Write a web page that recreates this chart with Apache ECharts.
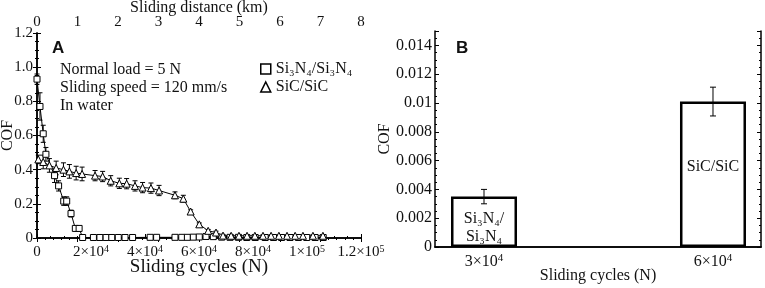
<!DOCTYPE html>
<html>
<head>
<meta charset="utf-8">
<script src="https://cdn.jsdelivr.net/npm/echarts@6/dist/echarts.min.js"></script>
<style>
  html, body { margin: 0; padding: 0; background: #fff; }
  #main { width: 765px; height: 288px; }
</style>
</head>
<body>
<div id="main"></div>
<script>
// panel A: COF vs sliding cycles
let si3n4Cycles = [0, 1100, 2300, 3300, 6500, 8000, 9900, 11000, 12600, 14200, 15600, 16900,
    20900, 23300, 25600, 27700, 30100, 32600, 35400, 41900, 44300, 51100, 53600, 55700, 57900,
    60100, 62600, 65300, 68400, 71500, 74600, 77700, 80800, 84500, 87600, 90600, 93700, 96800,
    99900, 103000, 106000];
let si3n4Cof = [0.93, 0.77, 0.61, 0.49, 0.365, 0.305, 0.216, 0.216, 0.143, 0.056, 0.056, 0.003,
    0.003, 0.003, 0.003, 0.003, 0.003, 0.003, 0.003, 0.004, 0.004, 0.004, 0.004, 0.004, 0.005,
    0.006, 0.009, 0.008, 0.005, 0.004, 0.004, 0.003, 0.003, 0.003, 0.003, 0.003, 0.003, 0.003,
    0.003, 0.003, 0.003];
let si3n4Err = [0.03, 0.08, 0.05, 0.04, 0.04, 0.03, 0.025, 0.025, 0.02, 0.012, 0.012, 0.005,
    0.004, 0.004, 0.004, 0.004, 0.004, 0.004, 0.004, 0.004, 0.004, 0.004, 0.004, 0.004, 0.004,
    0.004, 0.004, 0.004, 0.004, 0.004, 0.004, 0.004, 0.004, 0.004, 0.004, 0.004, 0.004, 0.004,
    0.004, 0.004, 0.004];

let sicCycles = [500, 2300, 4600, 7100, 9800, 12000, 14500, 16700, 21500, 24300, 27300, 30500,
    33200, 36300, 39100, 42200, 45200, 51100, 54200, 56900, 60100, 63400, 66300, 68900, 71900,
    74800, 77800, 80700, 83700, 86700, 89600, 92600, 95600, 98500, 102200, 105900];
let sicCof = [0.46, 0.445, 0.425, 0.41, 0.40, 0.39, 0.38, 0.375, 0.365, 0.36, 0.335, 0.32,
    0.318, 0.305, 0.295, 0.292, 0.278, 0.25, 0.23, 0.155, 0.08, 0.042, 0.032, 0.014, 0.013,
    0.013, 0.013, 0.013, 0.013, 0.013, 0.013, 0.013, 0.013, 0.013, 0.013, 0.013];
let sicErr = [0.025, 0.04, 0.04, 0.04, 0.04, 0.04, 0.04, 0.04, 0.03, 0.03, 0.03, 0.03,
    0.03, 0.03, 0.03, 0.03, 0.03, 0.02, 0.02, 0.01, 0.008, 0.008, 0.008, 0.006, 0.006,
    0.006, 0.006, 0.006, 0.006, 0.006, 0.006, 0.006, 0.006, 0.006, 0.006, 0.006];

// panel B: steady COF
let barCycles = [30000, 60000];
let barNames = ['Si₃N₄/\nSi₃N₄', 'SiC/SiC'];
let barCof = [0.0035, 0.0101];
let barErr = [0.0005, 0.001];

let serif = 'Liberation Serif';
let ink = '#111';

function zip(xs, ys) {
    return xs.map((x, i) => [x, ys[i]]);
}
function errData(xs, ys, es) {
    return xs.map((x, i) => [x, ys[i] - es[i], ys[i] + es[i]]);
}
function errRender(cap) {
    return function (params, api) {
        let x = api.value(0);
        let top = api.coord([x, api.value(2)]);
        let bot = api.coord([x, api.value(1)]);
        let st = { stroke: '#000', lineWidth: 1 };
        return {
            type: 'group',
            children: [
                { type: 'line', shape: { x1: top[0], y1: top[1], x2: bot[0], y2: bot[1] }, style: st },
                { type: 'line', shape: { x1: top[0] - cap, y1: top[1], x2: top[0] + cap, y2: top[1] }, style: st },
                { type: 'line', shape: { x1: bot[0] - cap, y1: bot[1], x2: bot[0] + cap, y2: bot[1] }, style: st }
            ]
        };
    };
}

// "2×10^4" with a real superscript
function cyclesLabel(v) {
    if (v === 0) return '{n|0}';
    if (v === 100000) return '{n|1×10}{s|5}';
    if (v === 120000) return '{n|1.2×10}{s|5}';
    return '{n|' + (v / 10000) + '×10}{s|4}';
}
function supLabel(size, margin, extra) {
    return Object.assign({
        margin: margin, formatter: cyclesLabel,
        fontFamily: serif, fontSize: size, color: ink,
        rich: {
            n: { fontFamily: serif, fontSize: size, color: ink, lineHeight: size + 2 },
            s: { fontFamily: serif, fontSize: Math.round(size * 0.68), color: ink, lineHeight: size + 2, verticalAlign: 'top' }
        }
    }, extra || {});
}

let lineAx = { lineStyle: { color: '#000', width: 1.5 } };
let inTick = { show: true, inside: true, length: 4, lineStyle: { color: '#000', width: 1 } };
let inMinor = function (n) {
    return { show: true, splitNumber: n, length: 2, lineStyle: { color: '#000', width: 1 } };
};
let lbl = function (size) {
    return { color: ink, fontFamily: serif, fontSize: size };
};

let chart = echarts.init(document.getElementById('main'));

let barData = barCycles.map((x, i) => ({
    value: [x, barCof[i]],
    label: {
        show: true,
        position: 'inside',
        offset: i === 0 ? [0, 6] : [0, -7],
        formatter: barNames[i],
        color: ink, fontFamily: serif, fontSize: 16, lineHeight: 18
    }
}));

let option = {
    animation: false,
    backgroundColor: '#fff',
    grid: [
        { left: 37, right: 404, top: 33, bottom: 50, outerBoundsMode: 'none' },
        { left: 435, right: 4, top: 31, bottom: 41, outerBoundsMode: 'none' }
    ],
    xAxis: [
        {
            gridIndex: 0, type: 'value', position: 'bottom', min: 0, max: 120000, interval: 20000,
            axisLine: lineAx, axisTick: inTick, minorTick: inMinor(4), splitLine: { show: false },
            axisLabel: supLabel(15, 6),
            name: 'Sliding cycles (N)', nameLocation: 'middle', nameGap: 20, nameMoveOverlap: false,
            nameTextStyle: lbl(19)
        },
        {
            gridIndex: 0, type: 'value', position: 'top', min: 0, max: 8, interval: 1,
            axisLine: lineAx, axisTick: inTick, minorTick: inMinor(5), splitLine: { show: false },
            axisLabel: Object.assign({ margin: 3 }, lbl(15)),
            name: 'Sliding distance (km)', nameLocation: 'middle', nameGap: 17, nameMoveOverlap: false,
            nameTextStyle: lbl(16)
        },
        {
            gridIndex: 1, type: 'value', position: 'bottom', min: 23580, max: 66290,
            axisLine: lineAx, axisTick: { show: false }, splitLine: { show: false },
            axisLabel: supLabel(16, 6, { customValues: barCycles }),
            name: 'Sliding cycles (N)', nameLocation: 'middle', nameGap: 21, nameMoveOverlap: false,
            nameTextStyle: lbl(16)
        },
        {
            gridIndex: 1, type: 'value', position: 'top', min: 23580, max: 66290,
            axisLine: lineAx, axisTick: { show: false }, axisLabel: { show: false }, splitLine: { show: false }
        }
    ],
    yAxis: [
        {
            gridIndex: 0, type: 'value', position: 'left', min: 0, max: 1.2, interval: 0.2,
            axisLine: lineAx, axisTick: inTick, minorTick: inMinor(4), splitLine: { show: false },
            axisLabel: Object.assign({ margin: 4, formatter: v => v === 0 ? '0' : v.toFixed(1) }, lbl(15)),
            name: 'COF', nameLocation: 'middle', nameGap: 21, nameMoveOverlap: false, nameTextStyle: lbl(16)
        },
        {
            gridIndex: 0, type: 'value', position: 'right', min: 0, max: 1.2, interval: 0.2,
            axisLine: lineAx, axisTick: inTick, minorTick: inMinor(4), splitLine: { show: false },
            axisLabel: { show: false }
        },
        {
            gridIndex: 1, type: 'value', position: 'left', min: 0, max: 0.015, interval: 0.002,
            axisLine: lineAx, axisTick: inTick, minorTick: inMinor(4), splitLine: { show: false },
            axisLabel: Object.assign({ margin: 3, showMaxLabel: false }, lbl(16)),
            name: 'COF', nameLocation: 'middle', nameGap: 42, nameMoveOverlap: false, nameTextStyle: lbl(16)
        },
        {
            gridIndex: 1, type: 'value', position: 'right', min: 0, max: 0.015, interval: 0.002,
            axisLine: lineAx, axisTick: inTick, minorTick: inMinor(4), splitLine: { show: false },
            axisLabel: { show: false }
        }
    ],
    legend: {
        orient: 'vertical', left: 255, top: 56, itemGap: 2,
        itemWidth: 10, itemHeight: 10,
        textStyle: { color: ink, fontFamily: serif, fontSize: 16 },
        data: [
            { name: 'Si₃N₄/Si₃N₄', icon: 'rect', itemStyle: { color: '#fff', borderColor: '#000', borderWidth: 1.5 } },
            { name: 'SiC/SiC', icon: 'triangle', itemStyle: { color: '#fff', borderColor: '#000', borderWidth: 1.5 } }
        ]
    },
    graphic: [
        { type: 'text', left: 52, top: 40, style: { text: 'A', fontFamily: 'Liberation Sans', fontWeight: 'bold', fontSize: 17, fill: '#111' } },
        { type: 'text', left: 456, top: 40, style: { text: 'B', fontFamily: 'Liberation Sans', fontWeight: 'bold', fontSize: 17, fill: '#111' } },
        { type: 'text', left: 60, top: 62, style: { text: 'Normal load = 5 N', fontFamily: serif, fontSize: 16, fill: ink } },
        { type: 'text', left: 60, top: 80, style: { text: 'Sliding speed = 120 mm/s', fontFamily: serif, fontSize: 16, fill: ink } },
        { type: 'text', left: 60, top: 98, style: { text: 'In water', fontFamily: serif, fontSize: 16, fill: ink } }
    ],
    series: [
        {
            type: 'custom', xAxisIndex: 0, yAxisIndex: 0, z: 1, silent: true,
            renderItem: errRender(2.5), encode: { x: 0, y: [1, 2] },
            data: errData(sicCycles, sicCof, sicErr)
        },
        {
            type: 'custom', xAxisIndex: 0, yAxisIndex: 0, z: 1, silent: true,
            renderItem: errRender(2.5), encode: { x: 0, y: [1, 2] },
            data: errData(si3n4Cycles, si3n4Cof, si3n4Err)
        },
        {
            name: 'Si₃N₄/Si₃N₄', type: 'line', xAxisIndex: 0, yAxisIndex: 0, z: 3,
            symbol: 'rect', symbolSize: 6, showAllSymbol: true,
            itemStyle: { color: '#fff', borderColor: '#000', borderWidth: 1 },
            lineStyle: { color: '#000', width: 1 },
            data: zip(si3n4Cycles, si3n4Cof)
        },
        {
            name: 'SiC/SiC', type: 'line', xAxisIndex: 0, yAxisIndex: 0, z: 3,
            symbol: 'triangle', symbolSize: 7, showAllSymbol: true,
            itemStyle: { color: '#fff', borderColor: '#000', borderWidth: 1 },
            lineStyle: { color: '#000', width: 1 },
            data: zip(sicCycles, sicCof)
        },
        {
            type: 'bar', xAxisIndex: 2, yAxisIndex: 2, barWidth: 66, z: 2,
            itemStyle: { color: '#fff', borderColor: '#000', borderWidth: 2.5 },
            data: barData
        },
        {
            type: 'custom', xAxisIndex: 2, yAxisIndex: 2, z: 4, silent: true,
            renderItem: errRender(3), encode: { x: 0, y: [1, 2] },
            data: errData(barCycles, barCof, barErr)
        }
    ]
};
chart.setOption(option);
</script>
</body>
</html>
